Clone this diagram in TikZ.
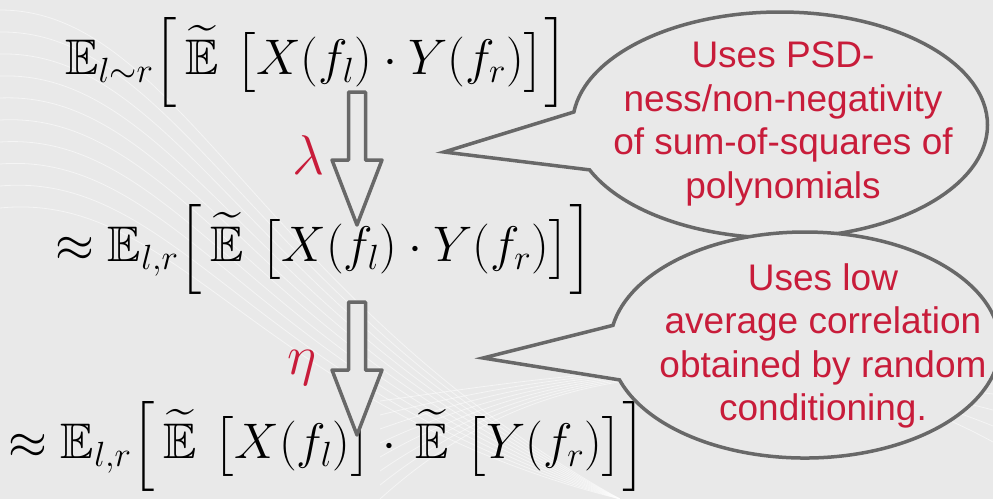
\RequirePackage{fix-cm}
\documentclass[tikz,border=0pt]{standalone}
\usepackage{amsmath}
\usepackage{amssymb}
\usepackage{fontspec}
\setsansfont{Liberation Sans}
\usepackage{xcolor}
\usetikzlibrary{positioning,shapes.callouts}
\definecolor{notered}{RGB}{200,28,58}
\definecolor{bggray}{RGB}{233,233,233}
\definecolor{edgegray}{RGB}{104,104,104}
\newcommand{\pE}{\widetilde{\,\mathbb{E}\,}}
\begin{document}
\begin{tikzpicture}[x=1pt, y=-1pt,
  formula/.style={anchor=west, inner sep=0pt, font=\fontsize{50}{56}\selectfont},
  bubble/.style={ellipse callout, draw=edgegray, line width=3.5pt, fill=bggray, callout pointer arc=30},
  note/.style={align=center, text=notered, font=\sffamily\fontsize{37}{43.5}\selectfont},
  param/.style={text=notered, font=\fontsize{56}{60}\selectfont},
  wave/.style={white, opacity=0.55, line width=0.8pt},
  blockarrow/.pic={\draw[edgegray, line width=3.5pt, line join=round, fill=bggray]
    (-8.5,0) -- (8.5,0) -- (8.5,68) -- (25,68) -- (0,133) -- (-25,68) -- (-8.5,68) -- cycle;}]
\fill[bggray] (0,0) rectangle (993,499);
\useasboundingbox (0,0) rectangle (993,499);
\foreach \i in {0,...,9}
  \draw[wave] (0,10+\i*22) .. controls (180,10+\i*20) and (260,300+\i*12) .. (620,499);
\foreach \i in {0,...,7}
  \draw[wave] (380,499-\i*14) .. controls (600,300+\i*10) and (800,420-\i*12) .. (993,330+\i*16);
\node[formula] (lone) at (65,62)
  {$\mathbb{E}_{l\sim r}\Big[\pE\,\big[X(f_l)\cdot Y(f_r)\big]\Big]$};
\node[formula] (ltwo) at (55,249)
  {$\approx\mathbb{E}_{l,r}\Big[\pE\,\big[X(f_l)\cdot Y(f_r)\big]\Big]$};
\node[formula] (lthree) at (8,446)
  {$\approx\mathbb{E}_{l,r}\Big[\pE\,\big[X(f_l)\big]\cdot\pE\,\big[Y(f_r)\big]\Big]$};
\pic at (357,92) {blockarrow};
\pic at (357,302) {blockarrow};
\node[param] (lam) at (308,155) {$\lambda$};
\node[param] (eta) at (302,368) {$\eta$};
\node[bubble, minimum width=415, minimum height=226, callout absolute pointer={(444,152)}] (bubA) at (780,125) {};
\node[note] (noteA) at (783,124) {Uses PSD-\\ness/non-negativity\\of sum-of-squares of\\polynomials};
\node[bubble, minimum width=390, minimum height=226, callout absolute pointer={(483,358)}, callout pointer arc=28] (bubB) at (805,345) {};
\node[note] (noteB) at (823,346) {Uses low\\average correlation\\obtained by random\\conditioning.};
\end{tikzpicture}
\end{document}
